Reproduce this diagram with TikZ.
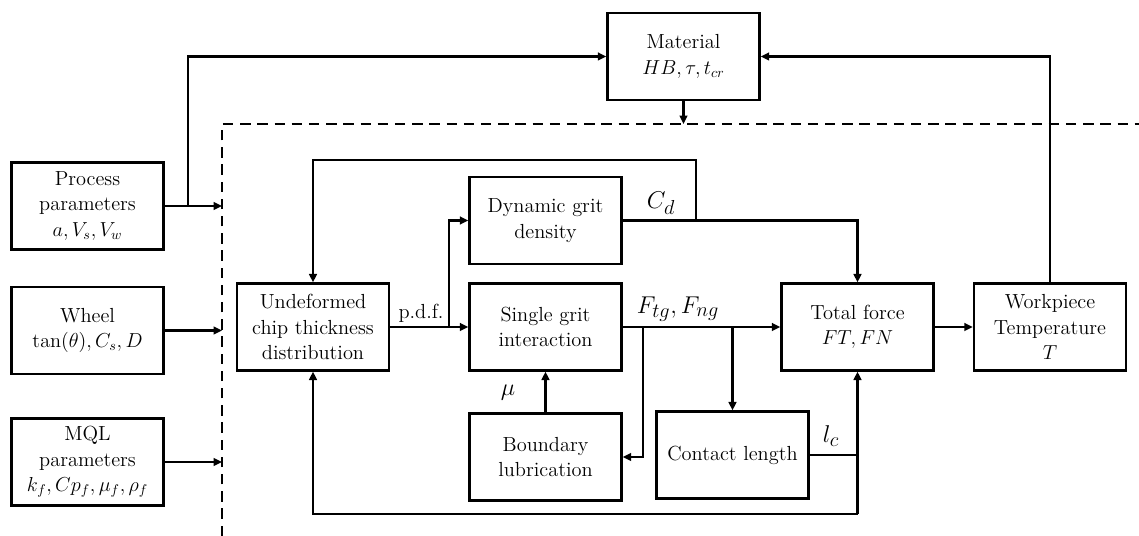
\documentclass[tikz,border=0pt]{standalone}
\usetikzlibrary{arrows.meta}
\begin{document}
\begin{tikzpicture}[x=0.025cm,y=-0.025cm,
  every node/.style={font=\fontsize{14.5}{18}\selectfont},
  blk/.style={draw,line width=1.7pt,minimum width=3.8cm,minimum height=2.17cm,align=center,inner sep=1pt},
  ln/.style={line width=1.8pt},
  arr/.style={ln,-{Triangle[length=6pt,width=5.5pt]}},
  dashline/.style={line width=1.7pt,dash pattern=on 0.26cm off 0.17cm},
  lab/.style={font=\fontsize{19}{21}\selectfont,inner sep=0pt}]
\useasboundingbox (0,0) rectangle (1139,536);
% boxes
\node[blk] (proc) at (87.5,206) {Process\\parameters\\$a, V_s, V_w$};
\node[blk] (whl) at (87.5,330.5) {Wheel\\$\tan(\theta), C_s, D$};
\node[blk] (mql) at (87.5,462) {MQL\\parameters\\$k_f, Cp_f, \mu_f, \rho_f$};
\node[blk] (mat) at (683.5,56.5) {Material\\$HB, \tau, t_{cr}$};
\node[blk] (und) at (313,327) {Undeformed\\chip thickness\\distribution};
\node[blk] (dyn) at (545.5,220.5) {Dynamic grit\\density};
\node[blk] (sgi) at (545.5,327) {Single grit\\interaction};
\node[blk] (bl) at (545.5,457) {Boundary\\lubrication};
\node[blk] (cl) at (732.5,455) {Contact length};
\node[blk] (tot) at (857.5,327) {Total force\\$FT, FN$};
\node[blk] (wp) at (1050,327) {Workpiece\\Temperature\\$T$};
% dashed boundary
\coordinate (dl) at (222,124);
\draw[dashline] (222,536) -- (dl) -- (1139,124);
% coordinates
\coordinate (pb) at (188,206);
\coordinate (pdfb) at (449,327);
\coordinate (fb1) at (643,327);
\coordinate (lp) at (696,220.5);
\coordinate (bot) at (857.5,514);
% inputs
\draw[arr] (proc.east) -- (proc.east -| dl);
\draw[arr] (pb) |- (mat.west);
\draw[arr] (whl.east) -- (whl.east -| dl);
\draw[arr] (mql.east) -- (mql.east -| dl);
\draw[arr] (mat.south) -- (mat.south |- dl);
\draw[arr] (wp.north) |- (mat.east);
% inner
\draw[arr] (und.east) -- (sgi.west);
\draw[arr] (pdfb) |- (dyn.west);
\draw[arr] (sgi.east) -- (tot.west);
\draw[arr] (fb1) |- (bl.east);
\draw[arr] (cl.north |- sgi.east) -- (cl.north);
\draw[arr] (bl.north) -- (bl.north |- sgi.south);
\draw[arr] (dyn.east) -| (tot.north);
\draw[arr] (lp) -- ++(0,-60.5) -| (und.north);
\draw[ln] (cl.east) -- (cl.east -| bot);
\draw[arr] (bot) -- (tot.south);
\draw[arr] (bot) -| (und.south);
\draw[arr] (tot.east) -- (wp.west);
% labels
\node[inner sep=0pt] (pdf) at (421,313) {p.d.f.};
\node[lab] (cd) at (661,203) {$C_d$};
\node[lab] (fg) at (678,309) {$F_{tg}, F_{ng}$};
\node[lab] (mu) at (508,393) {$\mu$};
\node[lab] (lc) at (831,436) {$l_c$};
\end{tikzpicture}
\end{document}
